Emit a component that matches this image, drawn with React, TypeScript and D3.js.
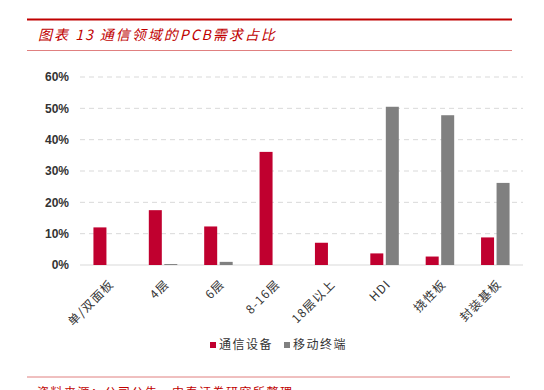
import React from "react";
import * as d3 from "d3";

const categories = ["单/双面板", "4层", "6层", "8-16层", "18层以上", "HDI", "挠性板", "封装基板"];
const telecomValues = [0.12, 0.175, 0.123, 0.361, 0.071, 0.037, 0.027, 0.088];
const mobileValues = [0, 0.003, 0.01, 0, 0, 0.505, 0.478, 0.262];
const seriesNames = ["通信设备", "移动终端"];
const yTicks = [0, 0.1, 0.2, 0.3, 0.4, 0.5, 0.6];
const titleText = "图表 13 通信领域的PCB需求占比";
const sourceText = "资料来源：公司公告，中泰证券研究所整理";

const W = 544;
const H = 390;
const RED = "#C0002F";
const GRAY = "#808080";
const TITLE_RED = "#C00000";

export default function App() {
  const left = 80, right = 523, top = 77, bottom = 265;
  const x = d3.scaleBand<string>().domain(categories).range([left, right]).paddingInner(0).paddingOuter(0);
  const y = d3.scaleLinear().domain([0, 0.6]).range([bottom, top]);
  const barW = 13;
  const gap = 2.5;
  const fmt = d3.format(".0%");
  const cjk = "'Noto Sans CJK SC', sans-serif";

  return (
    <svg width={W} height={H} style={{ position: "absolute", left: 0, top: 0 }}>
      <rect x={0} y={0} width={W} height={H} fill="#fff" />
      {/* header */}
      <line x1={27} x2={512} y1={19.5} y2={19.5} stroke={TITLE_RED} strokeWidth={2} />
      <text x={38} y={40} fill={TITLE_RED} fontSize={14} fontFamily={cjk} letterSpacing={2} style={{ fontStyle: "italic" }}>
        {titleText}
      </text>
      <line x1={27} x2={512} y1={50.5} y2={50.5} stroke="#E08080" strokeWidth={1} />

      {/* grid */}
      {yTicks.map((t) => (
        <g key={t}>
          {t > 0 ? (
            <line x1={left} x2={right} y1={y(t)} y2={y(t)} stroke="#D9D9D9" strokeWidth={1} strokeDasharray="5,4" />
          ) : (
            <line x1={left} x2={right} y1={y(t)} y2={y(t)} stroke="#D9D9D9" strokeWidth={1} />
          )}
          <text x={69} y={y(t)} dy="0.35em" textAnchor="end" fontSize={12} fontWeight="bold" fontFamily="'Liberation Sans', Arial, sans-serif" fill="#333">
            {fmt(t)}
          </text>
        </g>
      ))}

      {/* bars */}
      {categories.map((c, i) => {
        const cx = (x(c) as number) + x.bandwidth() / 2;
        return (
          <g key={c}>
            <rect x={cx - gap / 2 - barW} y={y(telecomValues[i])} width={barW} height={bottom - y(telecomValues[i])} fill={RED} />
            <rect x={cx + gap / 2} y={y(mobileValues[i])} width={barW} height={bottom - y(mobileValues[i])} fill={GRAY} />
          </g>
        );
      })}

      {/* x labels */}
      {categories.map((c) => {
        const cx = (x(c) as number) + x.bandwidth() / 2;
        return (
          <text key={c} transform={`translate(${cx + 1},${279}) rotate(-45)`} textAnchor="end" dy="0.7em" fontSize={12} letterSpacing={1.2} fontFamily={cjk} fill="#333">
            {c}
          </text>
        );
      })}

      {/* legend */}
      <rect x={210} y={342} width={6} height={6} fill={RED} />
      <text x={219} y={345} dy="0.35em" fontSize={12} letterSpacing={1.5} fontFamily={cjk} fill="#333">{seriesNames[0]}</text>
      <rect x={284} y={342} width={6} height={6} fill={GRAY} />
      <text x={293} y={345} dy="0.35em" fontSize={12} letterSpacing={1.5} fontFamily={cjk} fill="#333">{seriesNames[1]}</text>

      {/* footer */}
      <line x1={27} x2={510} y1={377} y2={377} stroke="#E08080" strokeWidth={1} />
      <text x={37} y={397} fontSize={12} letterSpacing={1.5} fontFamily={cjk} fill={TITLE_RED}>{sourceText}</text>
    </svg>
  );
}
